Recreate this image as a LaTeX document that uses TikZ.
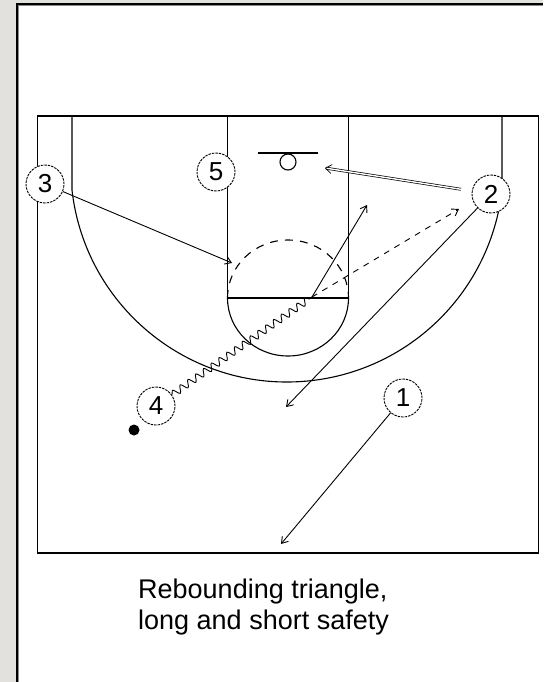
\documentclass[tikz,border=0pt]{standalone}
\usepackage{fontspec}
\setmainfont{Liberation Sans}
\usetikzlibrary{arrows.meta,decorations.pathmorphing}
\definecolor{bggray}{HTML}{E3E1DD}
\definecolor{edgegray}{HTML}{8A8A8A}
\begin{document}
\begin{tikzpicture}[x=1pt,y=-1pt,
  player/.style={circle, draw, dash pattern=on 2.5pt off 1pt, line width=0.9pt,
    minimum size=38pt, inner sep=0pt, fill=white, font=\fontsize{26}{26}\selectfont},
  court/.style={line width=1.1pt},
  tipp/.style={-{Straight Barb[length=6pt,width=8pt]}},
  mv/.style={line width=0.9pt, tipp},
  pass/.style={mv, dash pattern=on 6pt off 6pt},
  handoff/.style={line width=0.7pt, double, double distance=1.4pt, -{Straight Barb[length=6pt,width=9pt]}},
  dribble/.style={line width=0.9pt, decorate, decoration={snake, segment length=9.5pt, amplitude=3.5pt}},
  ballst/.style={circle, fill, inner sep=0pt, minimum size=11pt},
  caption/.style={anchor=north west, inner sep=0pt, align=left, font=\fontsize{27}{31}\selectfont}
]
\useasboundingbox (0,0) rectangle (543,682);
% background and frame
\fill[bggray] (0,0) rectangle (543,682);
\fill[white] (17,4) rectangle (543,682);
\draw[edgegray, line width=1pt] (18.6,682) -- (18.6,5.6) -- (543,5.6);
\draw[line width=1.6pt] (16.8,682) -- (16.8,3.8) -- (543,3.8);

% court
\draw[line width=1.6pt] (37.5,116) rectangle (538.5,553);
\draw[court] (72,116) -- (72,190.1) arc[start angle=173.5, end angle=6.5, radius=216.4] -- (502,116);
\draw[court] (227.5,116) -- (227.5,298) -- (348.5,298) -- (348.5,116);
\draw[court] (227.5,298) arc[start angle=180, end angle=0, x radius=60.5, y radius=58];
\draw[court, dash pattern=on 8pt off 7pt] (227.5,298) arc[start angle=180, end angle=360, x radius=60.5, y radius=58];
\draw[court] (258,153) -- (318,153);
\draw[court] (288,162) circle[radius=8];

% players
\node[player] (p3) at (45,184) {3};
\node[player] (p5) at (216,172) {5};
\node[player] (p2) at (491,194) {2};
\node[player] (p4) at (156,406) {4};
\node[player] (p1) at (403,398) {1};
\node[ballst] (ball) at (134,430) {};

% end points
\coordinate (a3) at (232,263);
\coordinate (bask) at (325,168);
\coordinate (dr) at (312,297);
\coordinate (shot) at (367,205);
\coordinate (pass) at (459,209);
\coordinate (a2) at (286,407);
\coordinate (a1) at (281,544);

% movements
\draw[mv] (p3) -- (a3);
\draw[handoff, shorten <=11pt] (p2) -- (bask);
\draw[dribble] (p4) -- (dr);
\draw[mv] (dr) -- (shot);
\draw[pass] (dr) -- (pass);
\draw[mv] (p2) -- (a2);
\draw[mv] (p1) -- (a1);

% caption
\node[caption] (cap) at (138,579) {Rebounding triangle,\\long and short safety};
\end{tikzpicture}
\end{document}
